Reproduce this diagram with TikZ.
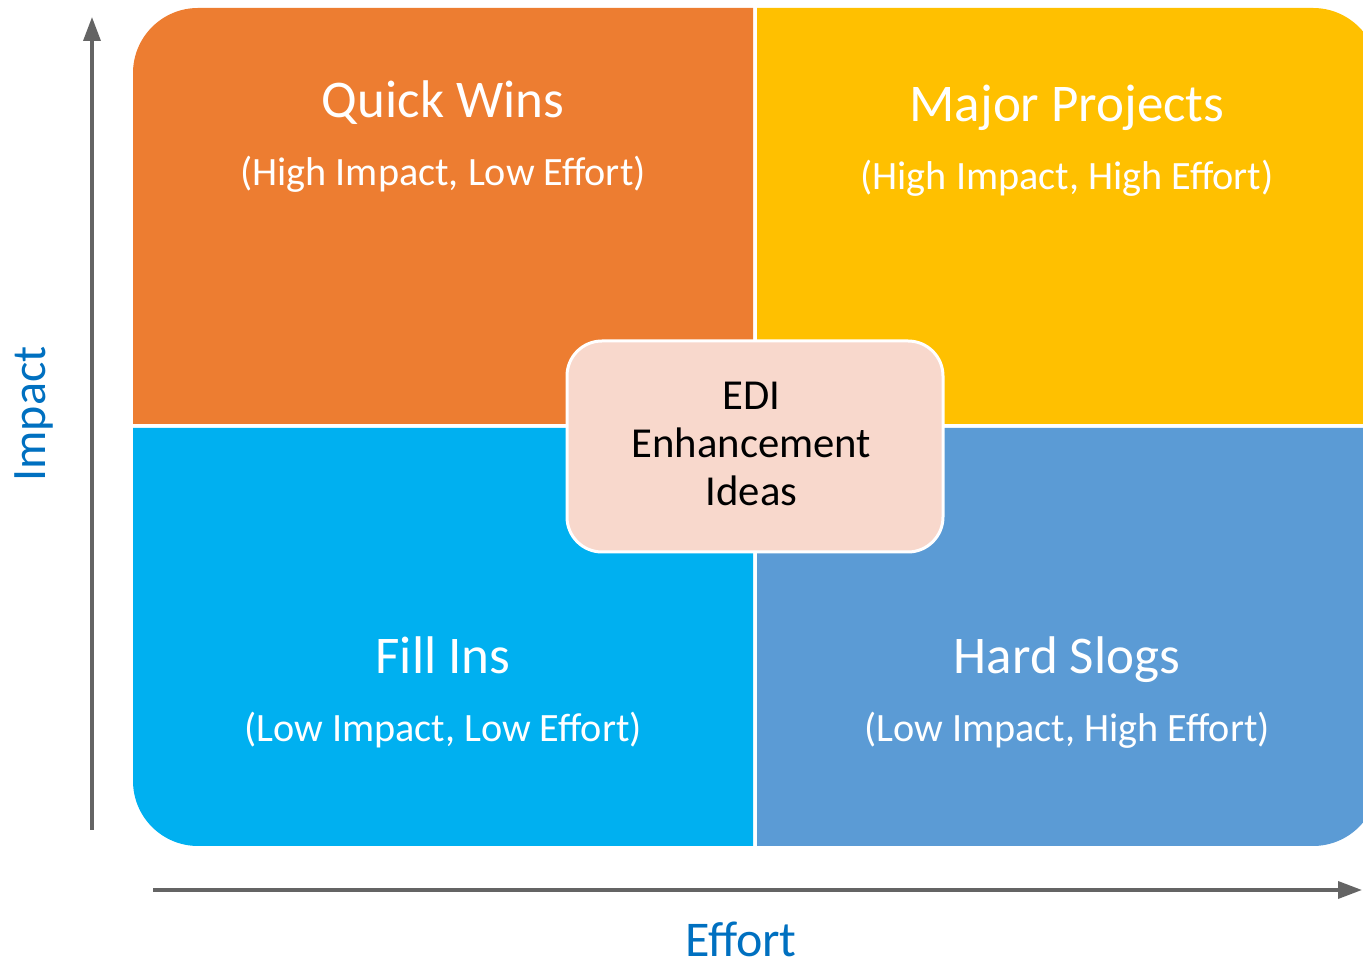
\documentclass[tikz,border=0pt]{standalone}
\usepackage{fontspec}
\setmainfont{Carlito}
\usetikzlibrary{arrows.meta}
\definecolor{qorange}{HTML}{ED7D31}
\definecolor{qyellow}{HTML}{FFC000}
\definecolor{qcyan}{HTML}{00B0F0}
\definecolor{qblue}{HTML}{5B9BD5}
\definecolor{qpeach}{HTML}{F8D8CC}
\definecolor{axisgray}{HTML}{646464}
\definecolor{axisblue}{HTML}{0070C0}
\tikzset{
  title/.style={text=white, anchor=base, inner sep=0pt, font=\fontsize{53}{60}\selectfont},
  subtitle/.style={text=white, anchor=base, inner sep=0pt, font=\fontsize{40.2}{46}\selectfont},
  axislabel/.style={text=axisblue, anchor=base, inner sep=0pt, text depth=0pt, font=\fontsize{48}{56}\selectfont},
  axisline/.style={draw=axisgray, line width=3.5pt, -{Triangle[length=24pt,width=17pt]}},
  centerbox/.style={fill=qpeach, draw=white, line width=3pt, rounded corners=35pt,
    minimum width=376pt, minimum height=211pt, inner sep=0pt},
  centertext/.style={align=center, inner sep=0pt, font=\fontsize{42.7}{48}\selectfont}
}
\begin{document}
\begin{tikzpicture}[x=1pt,y=1pt]
\useasboundingbox (0,0) rectangle (1363,961);
\clip (0,0) rectangle (1363,961);
% quadrants
\fill[qorange] (133,537) -- (133,888) arc[start angle=180,end angle=90,radius=65] -- (753,953) -- (753,537) -- cycle;
\fill[qyellow] (757,537) -- (757,953) -- (1313,953) arc[start angle=90,end angle=0,radius=65] -- (1378,537) -- cycle;
\fill[qcyan] (133,533) -- (133,180) arc[start angle=180,end angle=270,radius=65] -- (753,115) -- (753,533) -- cycle;
\fill[qblue] (757,533) -- (757,115) -- (1313,115) arc[start angle=-90,end angle=0,radius=65] -- (1378,533) -- cycle;
% quadrant texts
\node[title] (qw) at (443,843) {Quick Wins};
\node[subtitle] (qws) at (443,775) {(High Impact, Low Effort)};
\node[title] (mp) at (1067,839) {Major Projects};
\node[subtitle] (mps) at (1067,771) {(High Impact, High Effort)};
\node[title] (fi) at (443,287) {Fill Ins};
\node[subtitle] (fis) at (443,219) {(Low Impact, Low Effort)};
\node[title] (hs) at (1067,287) {Hard Slogs};
\node[subtitle] (hss) at (1067,219) {(Low Impact, High Effort)};
% center
\node[centerbox] (edi) at (755,514.5) {};
\node[centertext] (edit) at (751.5,517) {EDI\\Enhancement\\Ideas};
% axes
\coordinate (yb) at (92,131);
\coordinate (yt) at (92,944);
\coordinate (xb) at (153,71);
\coordinate (xt) at (1362,71);
\draw[axisline] (yb) -- (yt);
\draw[axisline] (xb) -- (xt);
\node[axislabel, rotate=90] (imp) at (45,547) {Impact};
\node[axislabel, font=\fontsize{50}{56}\selectfont] (eff) at (741,4) {Effort};
\end{tikzpicture}
\end{document}
